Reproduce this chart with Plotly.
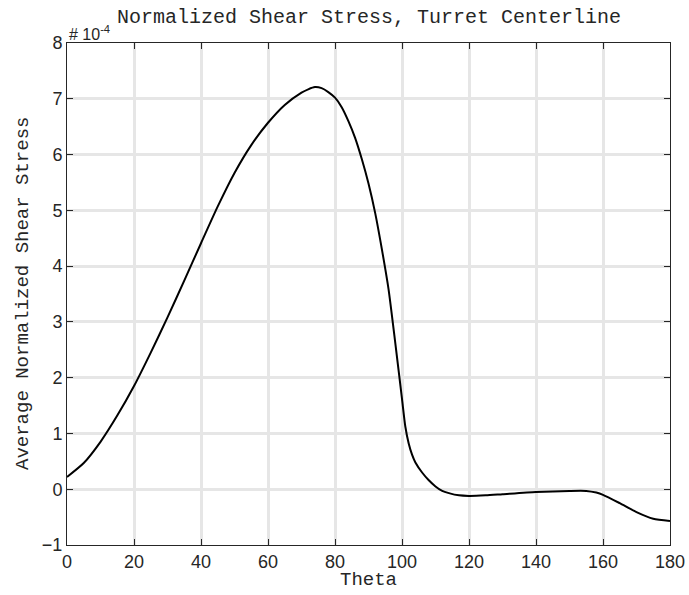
import plotly.graph_objects as go

theta = [0, 5, 10, 15, 20, 25, 30, 35, 40, 45, 50, 55, 60, 65, 70, 72, 74, 76, 78,
         80, 82, 84, 86, 88, 90, 92, 94, 96, 98, 100, 101, 102, 103, 104, 106, 108,
         110, 112, 114, 117, 120, 125, 130, 140, 150, 155, 158, 160, 165, 170, 175,
         180]
stress = [0.22, 0.47, 0.85, 1.32, 1.85, 2.45, 3.08, 3.74, 4.41, 5.07, 5.67, 6.17,
          6.57, 6.89, 7.11, 7.17, 7.21, 7.19, 7.12, 7.02, 6.85, 6.60, 6.30, 5.92,
          5.48, 4.95, 4.30, 3.58, 2.62, 1.62, 1.12, 0.82, 0.62, 0.48, 0.30, 0.16,
          0.05, -0.03, -0.07, -0.11, -0.12, -0.11, -0.09, -0.05, -0.03, -0.03,
          -0.06, -0.10, -0.25, -0.41, -0.53, -0.57]

x_ticks = [0, 20, 40, 60, 80, 100, 120, 140, 160, 180]
y_ticks = [-1, 0, 1, 2, 3, 4, 5, 6, 7, 8]

title_text = "Normalized Shear Stress, Turret Centerline"
x_label = "Theta"
y_label = "Average Normalized Shear Stress"
exp_label = "# 10<sup>-4</sup>"

serif_mono = "Liberation Mono, Courier New, monospace"
sans = "Liberation Sans, Arial, sans-serif"

fig = go.Figure()
fig.add_trace(go.Scatter(
    x=theta, y=stress, mode="lines",
    line=dict(color="black", width=2, shape="spline", smoothing=0.6),
    showlegend=False, hoverinfo="skip",
))

axis_common = dict(
    showline=True, linecolor="#262626", linewidth=1, mirror="ticks",
    ticks="inside", ticklen=6, tickcolor="#262626", tickwidth=1,
    showgrid=True, gridcolor="#e6e6e6", gridwidth=3,
    zeroline=False, automargin=False,
    tickfont=dict(family=sans, size=18, color="#262626"),
)

fig.update_layout(
    width=689, height=595,
    margin=dict(l=67, r=19, t=43, b=50, autoexpand=False),
    paper_bgcolor="white", plot_bgcolor="white",
    xaxis=dict(range=[0, 180], tickvals=x_ticks, **axis_common),
    yaxis=dict(range=[-1, 8], tickvals=y_ticks, **axis_common),
    annotations=[
        dict(text=title_text, xref="paper", yref="paper", x=0.5, y=1.0,
             yshift=12, xanchor="center", yanchor="bottom", showarrow=False,
             font=dict(family=serif_mono, size=20, color="#262626")),
        dict(text=exp_label, xref="paper", yref="paper", x=0.0, y=1.0,
             xshift=0, yshift=-2, xanchor="left", yanchor="bottom", showarrow=False,
             font=dict(family=sans, size=16, color="#262626")),
        dict(text=x_label, xref="paper", yref="paper", x=0.5, y=0.0,
             yshift=-22, xanchor="center", yanchor="top", showarrow=False,
             font=dict(family=serif_mono, size=19, color="#262626")),
        dict(text=y_label, xref="paper", yref="paper", x=0.0, y=0.5,
             xshift=-31, xanchor="right", yanchor="middle", showarrow=False,
             textangle=-90,
             font=dict(family=serif_mono, size=19, color="#262626")),
    ],
)

fig.write_html("out.html")
